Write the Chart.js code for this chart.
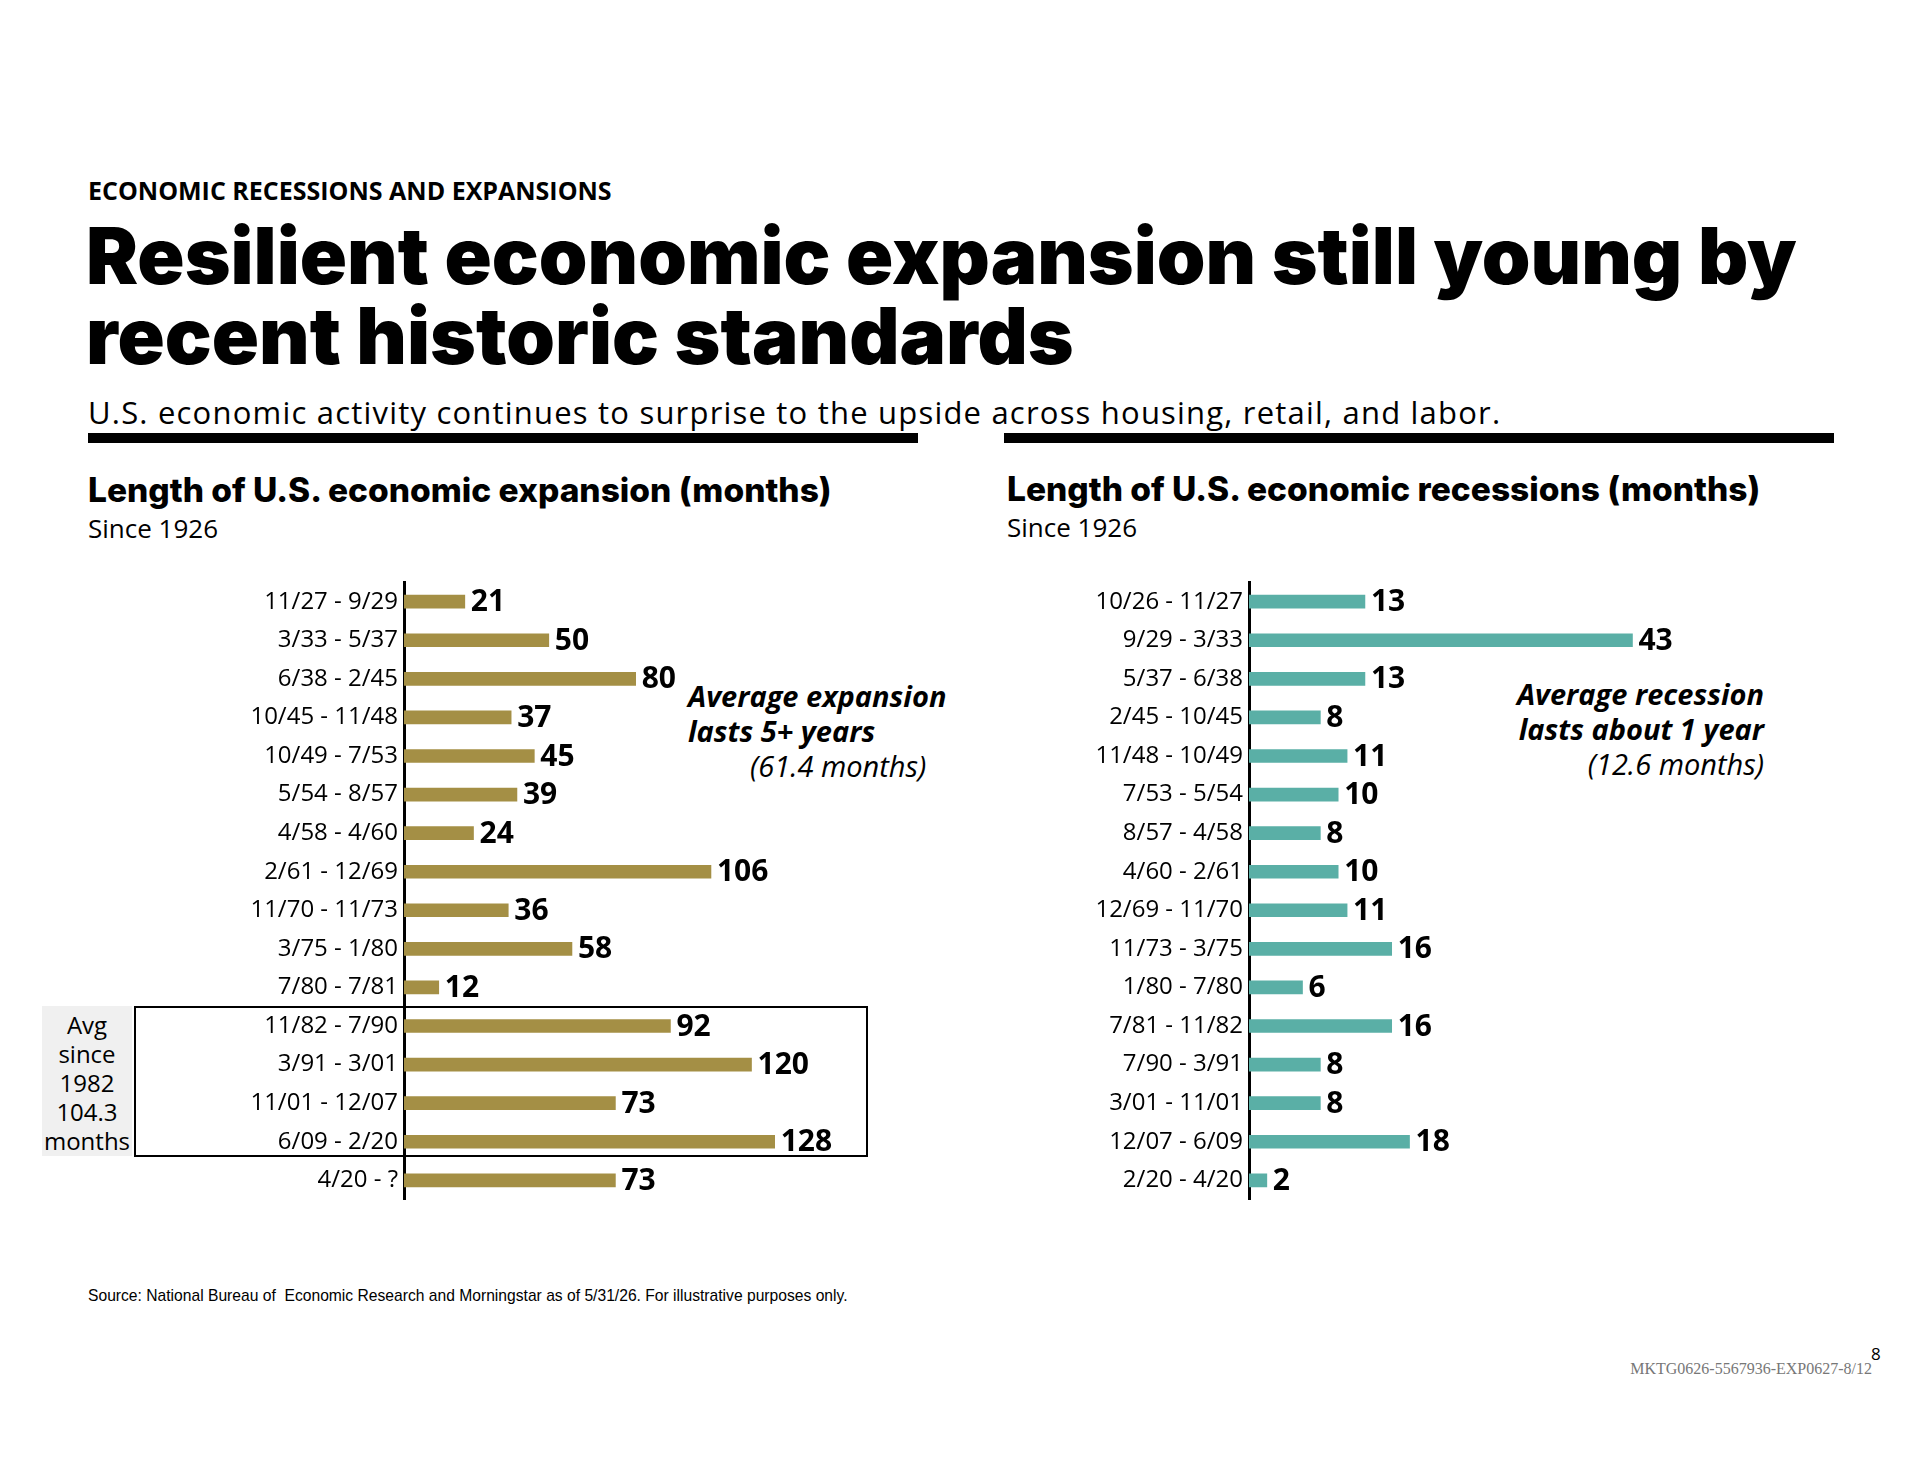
<!DOCTYPE html>
<html>
<head>
<meta charset="utf-8">
<script src="https://cdn.jsdelivr.net/npm/chart.js@4"></script>
<style>
  body { margin: 0; width: 1920px; height: 1484px; background: #fff; position: relative; font-family: "Open Sans", sans-serif; color: #000; overflow: hidden; }
  .abs { position: absolute; white-space: nowrap; }
  .kicker { left: 88px; top: 173px; font: 700 25px "Open Sans"; }
  .title { left: 86px; top: 216px; font: 900 78px/80px Inter; }
  .sub { left: 88px; top: 391px; font: 400 31px "Open Sans"; letter-spacing: 1.2px; }
  .rule { position: absolute; height: 10px; background: #000; top: 433px; }
  .h2 { font: 800 33.5px Inter; }
  .since { font: 400 26px "Open Sans"; }
  .note { font: italic 700 29px "Open Sans"; line-height: 35px; }
  canvas { position: absolute; }
</style>
</head>
<body>
<div class="abs kicker">ECONOMIC RECESSIONS AND EXPANSIONS</div>
<div class="abs title">Resilient economic expansion still young by<br>recent historic standards</div>
<div class="abs sub">U.S. economic activity continues to surprise to the upside across housing, retail, and labor.</div>
<div class="rule" style="left:88px;width:830px"></div>
<div class="rule" style="left:1004px;width:830px"></div>

<div class="abs h2" style="left:88px;top:470px">Length of U.S. economic expansion (months)</div>
<div class="abs since" style="left:88px;top:510px">Since 1926</div>
<div class="abs h2" style="left:1007px;top:469px">Length of U.S. economic recessions (months)</div>
<div class="abs since" style="left:1007px;top:509px">Since 1926</div>

<div class="abs note" style="left:688px;top:678px">Average expansion<br>lasts 5+ years<br><span style="font-weight:400;padding-left:62px">(61.4 months)</span></div>
<div class="abs note" style="right:156px;top:676px;text-align:right">Average recession<br>lasts about 1 year<br><span style="font-weight:400">(12.6 months)</span></div>

<div class="abs" style="left:42px;top:1006px;width:90px;height:150px;background:#f0f0f0;font:400 24px 'Open Sans';text-align:center;line-height:29px;padding-top:4px;box-sizing:border-box">Avg<br>since<br>1982<br>104.3<br>months</div>
<div class="abs" style="left:134px;top:1006px;width:734px;height:151px;border:2px solid #000;box-sizing:border-box"></div>

<canvas id="expChart" style="left:140px;top:562px"></canvas>
<canvas id="recChart" style="left:1000px;top:562px"></canvas>

<div class="abs" style="left:88px;top:1286px;font:400 17px 'Liberation Sans Narrow','Liberation Sans';transform:scaleX(0.92);transform-origin:left">Source: National Bureau of&nbsp; Economic Research and Morningstar as of 5/31/26. For illustrative purposes only.</div>
<div class="abs" style="left:1871px;top:1342px;font:400 17px 'Open Sans'">8</div>
<div class="abs" style="right:48px;top:1360px;font:400 16px 'Liberation Serif';color:#777">MKTG0626-5567936-EXP0627-8/12</div>

<script>
const expansionLabels = ["11/27 - 9/29", "3/33 - 5/37", "6/38 - 2/45", "10/45 - 11/48", "10/49 - 7/53", "5/54 - 8/57", "4/58 - 4/60", "2/61 - 12/69", "11/70 - 11/73", "3/75 - 1/80", "7/80 - 7/81", "11/82 - 7/90", "3/91 - 3/01", "11/01 - 12/07", "6/09 - 2/20", "4/20 - ?"];
const expansionMonths = [21, 50, 80, 37, 45, 39, 24, 106, 36, 58, 12, 92, 120, 73, 128, 73];
const recessionLabels = ["10/26 - 11/27", "9/29 - 3/33", "5/37 - 6/38", "2/45 - 10/45", "11/48 - 10/49", "7/53 - 5/54", "8/57 - 4/58", "4/60 - 2/61", "12/69 - 11/70", "11/73 - 3/75", "1/80 - 7/80", "7/81 - 11/82", "7/90 - 3/91", "3/01 - 11/01", "12/07 - 6/09", "2/20 - 4/20"];
const recessionMonths = [13, 43, 13, 8, 11, 10, 8, 10, 11, 16, 6, 16, 8, 8, 18, 2];

const valueLabels = {
  id: "valueLabels",
  afterDatasetsDraw(chart) {
    const ctx = chart.ctx;
    const meta = chart.getDatasetMeta(0);
    ctx.save();
    ctx.font = "700 30px 'Open Sans'";
    ctx.fillStyle = "#000";
    ctx.textBaseline = "middle";
    meta.data.forEach((bar, i) => {
      ctx.fillText(chart.data.datasets[0].data[i], bar.x + 6, bar.y + 1);
    });
    ctx.restore();
  }
};

function makeChart(id, labels, data, color, w, axisW, xMax) {
  const el = document.getElementById(id);
  el.width = w; el.height = 658;
  el.style.width = w + "px"; el.style.height = "658px";
  return new Chart(el, {
    type: "bar",
    data: { labels, datasets: [{ data, backgroundColor: color, barThickness: 13 }] },
    options: {
      indexAxis: "y",
      responsive: false,
      animation: false,
      layout: { padding: 0 },
      plugins: { legend: { display: false }, tooltip: { enabled: false } },
      scales: {
        x: { display: false, min: 0, max: xMax },
        y: {
          grid: { display: false, drawTicks: false },
          border: { color: "#000", width: 3 },
          ticks: { color: "#000", font: { family: "Open Sans", size: 24 }, padding: 6 },
          afterFit(s) { s.width = axisW; }
        }
      }
    },
    plugins: [valueLabels]
  });
}

makeChart("expChart", expansionLabels, expansionMonths, "#a48f45", 820, 264, 192);
makeChart("recChart", recessionLabels, recessionMonths, "#5aafa6", 900, 249, 73);
</script>
</body>
</html>
